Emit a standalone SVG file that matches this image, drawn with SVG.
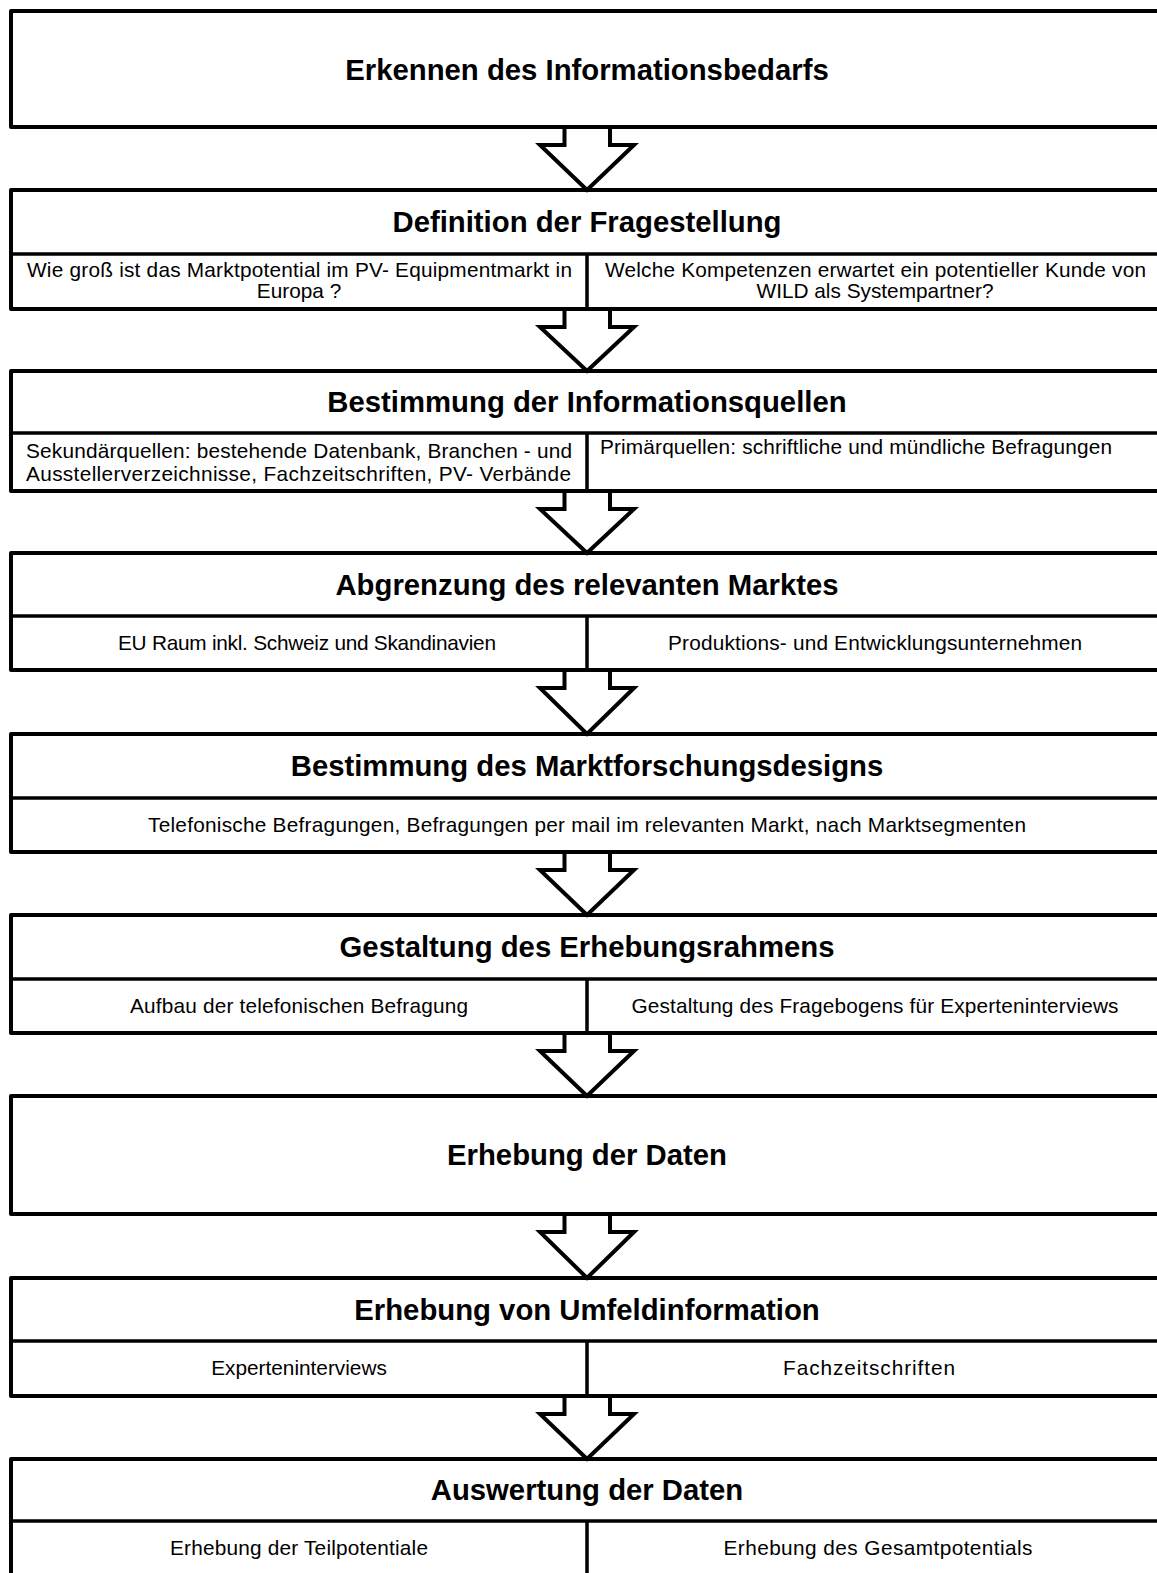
<svg xmlns="http://www.w3.org/2000/svg" width="1157" height="1573" viewBox="0 0 1157 1573">
<style>
.box{fill:#fff;stroke:#000;stroke-width:4;stroke-linejoin:round}
.div{stroke:#000;stroke-width:3.5;fill:none}
.arrow{fill:none;stroke:#000;stroke-width:4;stroke-linejoin:miter}
.title{font-family:"Liberation Sans",Arial,sans-serif;font-weight:bold;font-size:29.3px;text-anchor:middle;fill:#000}
.sub{font-family:"Liberation Sans",Arial,sans-serif;font-size:20.8px;fill:#000}
.c{text-anchor:middle}
</style>
<rect width="1157" height="1573" fill="#fff"/>
<g id="n1">
<rect class="box" x="11" y="11" width="1152" height="116"/>
<text class="title" x="587" y="80">Erkennen des Informationsbedarfs</text>
</g>
<g id="n2">
<rect class="box" x="11" y="190" width="1152" height="119"/>
<line class="div" x1="11" y1="254" x2="1163" y2="254"/>
<line class="div" x1="587" y1="254" x2="587" y2="309"/>
<text class="title" x="587" y="232">Definition der Fragestellung</text>
<text class="sub" x="27" y="277" textLength="545" lengthAdjust="spacing">Wie groß ist das Marktpotential im PV- Equipmentmarkt in</text>
<text class="sub c" x="299" y="298">Europa ?</text>
<text class="sub" x="605" y="277" textLength="541" lengthAdjust="spacing">Welche Kompetenzen erwartet ein potentieller Kunde von</text>
<text class="sub c" x="875" y="298">WILD als Systempartner?</text>
</g>
<g id="n3">
<rect class="box" x="11" y="371" width="1152" height="120"/>
<line class="div" x1="11" y1="433" x2="1163" y2="433"/>
<line class="div" x1="587" y1="433" x2="587" y2="491"/>
<text class="title" x="587" y="412">Bestimmung der Informationsquellen</text>
<text class="sub" x="26" y="458" textLength="546" lengthAdjust="spacing">Sekundärquellen: bestehende Datenbank, Branchen - und</text>
<text class="sub" x="26" y="481" textLength="545" lengthAdjust="spacing">Ausstellerverzeichnisse, Fachzeitschriften, PV- Verbände</text>
<text class="sub" x="600" y="454" textLength="512" lengthAdjust="spacing">Primärquellen: schriftliche und mündliche Befragungen</text>
</g>
<g id="n4">
<rect class="box" x="11" y="553" width="1152" height="117"/>
<line class="div" x1="11" y1="616" x2="1163" y2="616"/>
<line class="div" x1="587" y1="616" x2="587" y2="670"/>
<text class="title" x="587" y="595">Abgrenzung des relevanten Marktes</text>
<text class="sub c" x="307" y="650" textLength="378" lengthAdjust="spacing">EU Raum inkl. Schweiz und Skandinavien</text>
<text class="sub c" x="875" y="650" textLength="414" lengthAdjust="spacing">Produktions- und Entwicklungsunternehmen</text>
</g>
<g id="n5">
<rect class="box" x="11" y="734" width="1152" height="118"/>
<line class="div" x1="11" y1="798" x2="1163" y2="798"/>
<text class="title" x="587" y="776">Bestimmung des Marktforschungsdesigns</text>
<text class="sub c" x="587" y="832" textLength="878" lengthAdjust="spacing">Telefonische Befragungen, Befragungen per mail im relevanten Markt, nach Marktsegmenten</text>
</g>
<g id="n6">
<rect class="box" x="11" y="915" width="1152" height="118"/>
<line class="div" x1="11" y1="979" x2="1163" y2="979"/>
<line class="div" x1="587" y1="979" x2="587" y2="1033"/>
<text class="title" x="587" y="957">Gestaltung des Erhebungsrahmens</text>
<text class="sub c" x="299" y="1013" textLength="338" lengthAdjust="spacing">Aufbau der telefonischen Befragung</text>
<text class="sub c" x="875" y="1013" textLength="487" lengthAdjust="spacing">Gestaltung des Fragebogens für Experteninterviews</text>
</g>
<g id="n7">
<rect class="box" x="11" y="1096" width="1152" height="118"/>
<text class="title" x="587" y="1165">Erhebung der Daten</text>
</g>
<g id="n8">
<rect class="box" x="11" y="1278" width="1152" height="118"/>
<line class="div" x1="11" y1="1341" x2="1163" y2="1341"/>
<line class="div" x1="587" y1="1341" x2="587" y2="1396"/>
<text class="title" x="587" y="1320">Erhebung von Umfeldinformation</text>
<text class="sub c" x="299" y="1375">Experteninterviews</text>
<text class="sub c" x="869" y="1375" textLength="172" lengthAdjust="spacing">Fachzeitschriften</text>
</g>
<g id="n9">
<rect class="box" x="11" y="1459" width="1152" height="120"/>
<line class="div" x1="11" y1="1521" x2="1163" y2="1521"/>
<line class="div" x1="587" y1="1521" x2="587" y2="1579"/>
<text class="title" x="587" y="1500">Auswertung der Daten</text>
<text class="sub c" x="299" y="1555" textLength="258" lengthAdjust="spacing">Erhebung der Teilpotentiale</text>
<text class="sub c" x="878" y="1555" textLength="309" lengthAdjust="spacing">Erhebung des Gesamtpotentials</text>
</g>
<g id="connectors">
<path class="arrow" d="M564.5,127 V145 H540 L587,190 L634,145 H610 V127"/>
<path class="arrow" d="M564.5,309 V327 H540 L587,371 L634,327 H610 V309"/>
<path class="arrow" d="M564.5,491 V509 H540 L587,553 L634,509 H610 V491"/>
<path class="arrow" d="M564.5,670 V688 H540 L587,734 L634,688 H610 V670"/>
<path class="arrow" d="M564.5,852 V870 H540 L587,915 L634,870 H610 V852"/>
<path class="arrow" d="M564.5,1033 V1051 H540 L587,1096 L634,1051 H610 V1033"/>
<path class="arrow" d="M564.5,1214 V1232 H540 L587,1278 L634,1232 H610 V1214"/>
<path class="arrow" d="M564.5,1396 V1414 H540 L587,1459 L634,1414 H610 V1396"/>
</g>
</svg>
